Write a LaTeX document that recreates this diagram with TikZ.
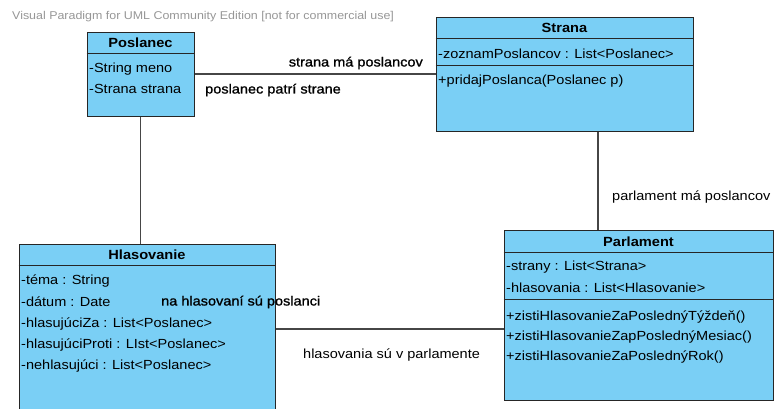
\documentclass[tikz,border=0pt]{standalone}
\usepackage{fontspec}
\setmainfont{Liberation Sans}[FakeStretch=1.1]
\newfontfamily\assocfont{Liberation Sans}[FakeStretch=1.1,FakeBold=1.2]
\definecolor{umlblue}{RGB}{122,207,245}
\definecolor{edgegray}{RGB}{70,70,70}
\definecolor{markgray}{RGB}{150,150,150}
\tikzset{
  classbox/.style={draw=black!85, fill=umlblue, line width=1pt, inner sep=0pt},
  classname/.style={inner sep=0pt, font=\fontsize{13.3}{16}\selectfont\bfseries},
  member/.style={inner sep=0pt, anchor=west, font=\fontsize{13.2}{16}\selectfont},
  assoc/.style={inner sep=0pt, font=\fontsize{13.2}{16}\selectfont\assocfont},
  assocplain/.style={inner sep=0pt, font=\fontsize{13.2}{16}\selectfont},
  link/.style={draw=edgegray, line width=1.2pt}
}
\begin{document}
\begin{tikzpicture}[x=1pt,y=1pt]
    \useasboundingbox (0,0) rectangle (774,-408);
    \node [anchor=west, inner sep=0pt, text=markgray, font=\fontsize{11.3}{13}\selectfont] (mark) at (12,-17)
        {Visual Paradigm for UML Community Edition [not for commercial use]};
    % classes
    \node [classbox, minimum width=107pt, minimum height=84pt] (poslanec) at (140.5,-74) {};
    \node [classbox, minimum width=257pt, minimum height=114pt] (strana) at (564.5,-74) {};
    \node [classbox, minimum width=256pt, minimum height=170pt] (hlasovanie) at (147,-329) {};
    \node [classbox, minimum width=269pt, minimum height=170pt] (parlament) at (638.5,-315) {};
    \draw [black!85, line width=1pt] (poslanec.west |- 0,-53) -- (poslanec.east |- 0,-53);
    \draw [black!85, line width=1pt] (strana.west |- 0,-38) -- (strana.east |- 0,-38);
    \draw [black!85, line width=1pt] (strana.west |- 0,-65) -- (strana.east |- 0,-65);
    \draw [black!85, line width=1pt] (hlasovanie.west |- 0,-265) -- (hlasovanie.east |- 0,-265);
    \draw [black!85, line width=1pt] (parlament.west |- 0,-252) -- (parlament.east |- 0,-252);
    \draw [black!85, line width=1pt] (parlament.west |- 0,-299) -- (parlament.east |- 0,-299);
    \node [classname] (poslanecName) at (140.5,-43) {Poslanec};
    \node [classname] (stranaName) at (564.5,-28) {Strana};
    \node [classname] (hlasovanieName) at (147,-255) {Hlasovanie};
    \node [classname] (parlamentName) at (638.5,-242) {Parlament};
    \node [member] (meno) at (89,-69) {-String meno};
    \node [member] (stranaAttr) at (89,-89) {-Strana strana};
    \node [member] (zoznam) at (438,-54) {-zoznamPoslancov : List<Poslanec>};
    \node [member] (pridaj) at (438,-81) {+pridajPoslanca(Poslanec p)};
    \node [member] (tema) at (21,-281) {-téma : String};
    \node [member] (datum) at (21,-302) {-dátum : Date};
    \node [member] (za) at (21,-324) {-hlasujúciZa : List<Poslanec>};
    \node [member] (proti) at (21,-345) {-hlasujúciProti : LIst<Poslanec>};
    \node [member] (nehlas) at (21,-366) {-nehlasujúci : List<Poslanec>};
    \node [member] (strany) at (506,-267) {-strany : List<Strana>};
    \node [member] (hlasovania) at (506,-288) {-hlasovania : List<Hlasovanie>};
    \node [member] (tyzden) at (506,-317) {+zistiHlasovanieZaPoslednýTýždeň()};
    \node [member] (mesiac) at (506,-337) {+zistiHlasovanieZapPoslednýMesiac()};
    \node [member] (rok) at (506,-357) {+zistiHlasovanieZaPoslednýRok()};
    % associations
    \draw [link] (poslanec) -- (strana);
    \draw [link] (poslanec.south) -- (poslanec.south |- hlasovanie.north);
    \draw [link] ([xshift=33.5pt]strana.south) -- ([xshift=33.5pt]strana.south |- parlament.north);
    \draw [link] (hlasovanie) -- (hlasovanie -| parlament.west);
    \node [assoc, anchor=east] (stranaMa) at (423,-63) {strana má poslancov};
    \node [assoc, anchor=west] (poslanecPatri) at (205,-90) {poslanec patrí strane};
    \node [assocplain, anchor=west] (parlamentMa) at (612,-197) {parlament má poslancov};
    \node [assoc, anchor=west] (naHlasovani) at (161,-302) {na hlasovaní sú poslanci};
    \node [assocplain, anchor=west] (hlasovaniaSu) at (303,-355) {hlasovania sú v parlamente};
\end{tikzpicture}
\end{document}
